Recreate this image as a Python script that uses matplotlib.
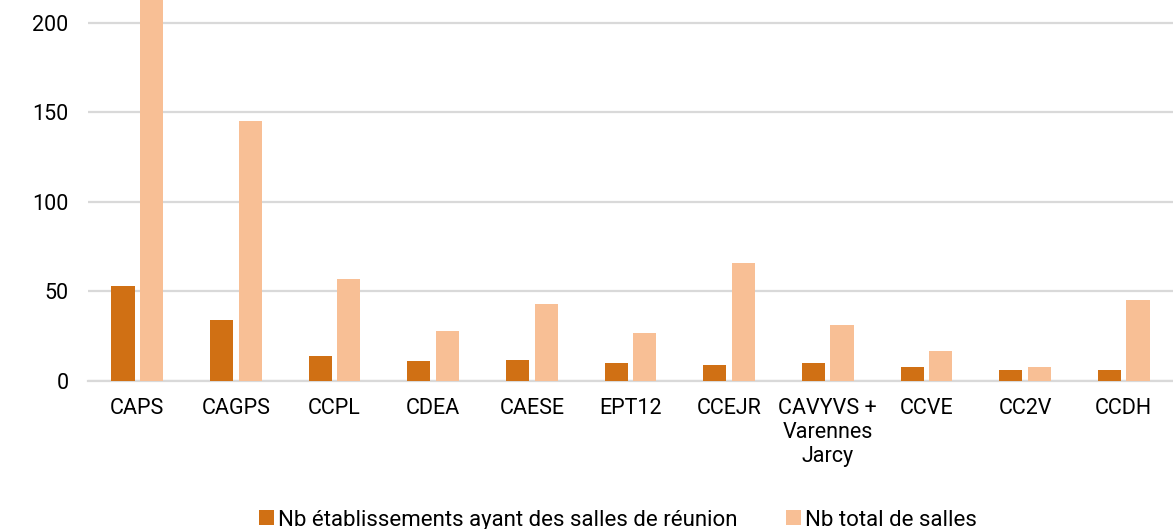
import numpy as np
import matplotlib.pyplot as plt

plt.rcParams['font.family'] = ['Roboto', 'DejaVu Sans']

categories = ['CAPS', 'CAGPS', 'CCPL', 'CDEA', 'CAESE', 'EPT12', 'CCEJR',
              'CAVYVS +\nVarennes\nJarcy', 'CCVE', 'CC2V', 'CCDH']
nb_etab = [53, 34, 14, 11, 12, 10, 9, 10, 8, 6, 6]
nb_salles = [230, 145, 57, 28, 43, 27, 66, 31, 17, 8, 45]
series_labels = ['Nb établissements ayant des salles de réunion', 'Nb total de salles']
yticks = [0, 50, 100, 150, 200]

dark = '#d07014'
light = '#f8bf95'
grid = '#d9d9d9'

fig = plt.figure(figsize=(11.73, 5.29), dpi=100)
ax = fig.add_axes([0.075, 0.2798, 0.925, 0.7202])

x = np.arange(len(categories))
w = 0.235
gap = 0.055
ax.bar(x - (w + gap) / 2, nb_etab, w, color=dark, label=series_labels[0], zorder=3)
ax.bar(x + (w + gap) / 2, nb_salles, w, color=light, label=series_labels[1], zorder=3)

ax.set_xlim(-0.5, len(categories) - 0.5)
ax.set_ylim(0, 212.8)
ax.set_yticks(yticks)
ax.set_xticks(x)
ax.set_xticklabels(categories, fontsize=15.5, linespacing=1.2, va='top')
ax.tick_params(axis='x', length=0, pad=12)
ax.tick_params(axis='y', length=0, pad=14, labelsize=15.5)
ax.yaxis.grid(True, color=grid, linewidth=1.6, zorder=0)
ax.set_axisbelow(True)
for s in ['top', 'right', 'left']:
    ax.spines[s].set_visible(False)
ax.spines['bottom'].set_color(grid)
ax.spines['bottom'].set_linewidth(1.6)

fig.legend(loc='lower center', bbox_to_anchor=(0.527, -0.041), ncol=2, frameon=False,
           fontsize=16, handlelength=0.65, handleheight=0.65, handletextpad=0.2,
           columnspacing=2.17)

fig.savefig('out.png', dpi=100)
